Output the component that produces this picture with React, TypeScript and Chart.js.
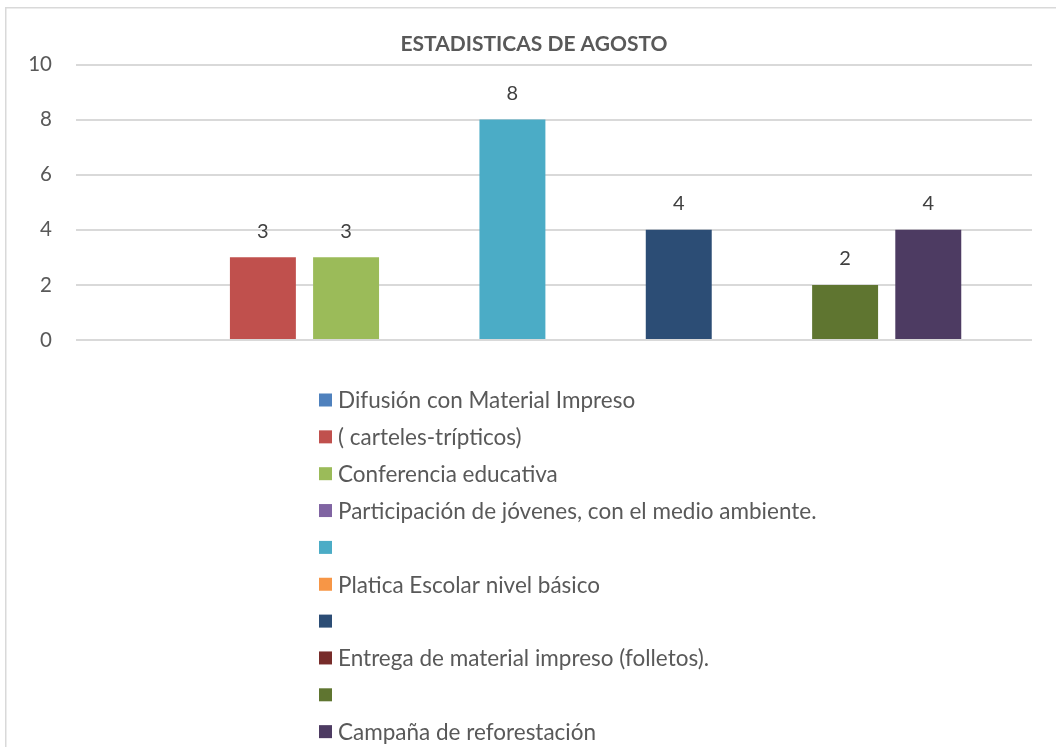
import React, { useEffect, useRef } from "react";
import { Chart, registerables } from "chart.js";

Chart.register(...registerables);

const chartTitle = "ESTADISTICAS DE AGOSTO";
const categories = ["Agosto"];
const seriesLabels = [
  "Difusión con Material Impreso",
  "( carteles-trípticos)",
  "Conferencia educativa",
  "Participación de jóvenes, con el medio ambiente.",
  "",
  "Platica Escolar nivel básico",
  "",
  "Entrega de material impreso (folletos).",
  "",
  "Campaña de reforestación",
];
const seriesValues: (number | null)[] = [null, 3, 3, null, 8, null, 4, null, 2, 4];
const seriesColors = [
  "#4F81BD",
  "#C0504D",
  "#9BBB59",
  "#8064A2",
  "#4BACC6",
  "#F79646",
  "#2C4D75",
  "#772C2A",
  "#5F7530",
  "#4D3B62",
];
const yMin = 0;
const yMax = 10;
const yStep = 2;

const FONT = "Lato";
const TEXT = "#595959";

const framePlugin = {
  id: "frame",
  beforeDraw(chart: any) {
    const { ctx, width, height } = chart;
    ctx.save();
    ctx.fillStyle = "#ffffff";
    ctx.fillRect(0, 0, width, height);
    ctx.strokeStyle = "#d9d9d9";
    ctx.lineWidth = 1.5;
    ctx.beginPath();
    ctx.moveTo(5.75, height);
    ctx.lineTo(5.75, 7.75);
    ctx.lineTo(width, 7.75);
    ctx.stroke();
    ctx.restore();
  },
};

const valueLabelPlugin = {
  id: "valueLabels",
  afterDatasetsDraw(chart: any) {
    const { ctx } = chart;
    ctx.save();
    ctx.fillStyle = "#404040";
    ctx.font = `20px ${FONT}`;
    ctx.textAlign = "center";
    ctx.textBaseline = "middle";
    chart.data.datasets.forEach((ds: any, i: number) => {
      const meta = chart.getDatasetMeta(i);
      meta.data.forEach((bar: any, j: number) => {
        const v = ds.data[j];
        if (v === null || v === undefined) return;
        ctx.fillText(String(v), bar.x, bar.y - 26);
      });
    });
    ctx.restore();
  },
};

const legendPlugin = {
  id: "stackedLegend",
  afterDraw(chart: any) {
    const { ctx, chartArea } = chart;
    const left = 319;
    const top = chartArea.bottom + 60;
    const rowH = 36.85;
    const box = 13;
    ctx.save();
    ctx.font = `22.5px ${FONT}`;
    ctx.textBaseline = "middle";
    ctx.textAlign = "left";
    chart.data.datasets.forEach((ds: any, i: number) => {
      const cy = top + i * rowH;
      ctx.fillStyle = ds.backgroundColor;
      ctx.fillRect(left, cy - box / 2, box, box);
      ctx.fillStyle = TEXT;
      ctx.fillText(ds.label, left + 19, cy + 1);
    });
    ctx.restore();
  },
};

export default function App() {
  const ref = useRef<HTMLCanvasElement | null>(null);

  useEffect(() => {
    if (!ref.current) return;
    const titleSize = 21;
    const chart = new Chart(ref.current, {
      type: "bar",
      data: {
        labels: categories,
        datasets: seriesLabels.map((label, i) => ({
          label,
          data: [seriesValues[i]],
          backgroundColor: seriesColors[i],
          borderWidth: 0,
          categoryPercentage: 0.87,
          barPercentage: 0.793,
          yAxisID: "y",
        })),
      },
      options: {
        responsive: false,
        animation: false,
        layout: { padding: { left: 12, right: 0, top: 0, bottom: 407 } },
        plugins: {
          legend: { display: false },
          tooltip: { enabled: false },
          title: {
            display: true,
            text: chartTitle,
            color: TEXT,
            font: { family: FONT, size: titleSize, weight: "bold" },
            padding: { top: 44 - titleSize * 0.6, bottom: 64.5 - 44 - titleSize * 0.6 },
          },
        },
        scales: {
          x: { display: false },
          y: {
            position: "left",
            min: yMin,
            max: yMax,
            ticks: {
              stepSize: yStep,
              color: TEXT,
              padding: 24,
              font: { family: FONT, size: 20.5 },
            },
            grid: { color: "#d9d9d9", lineWidth: 2, drawTicks: false },
            border: { display: false },
            afterFit(scale: any) {
              scale.width = 64;
            },
          },
          yRightSpace: {
            position: "right",
            display: true,
            ticks: { display: false },
            grid: { display: false, drawTicks: false },
            border: { display: false },
            afterFit(scale: any) {
              scale.width = 24;
            },
          },
        },
      },
      plugins: [framePlugin, valueLabelPlugin, legendPlugin],
    });
    return () => chart.destroy();
  }, []);

  return (
    <div style={{ position: "fixed", left: 0, top: 0, width: 1056, height: 747 }}>
      <canvas ref={ref} width={1056} height={747} style={{ width: 1056, height: 747, display: "block" }} />
    </div>
  );
}
